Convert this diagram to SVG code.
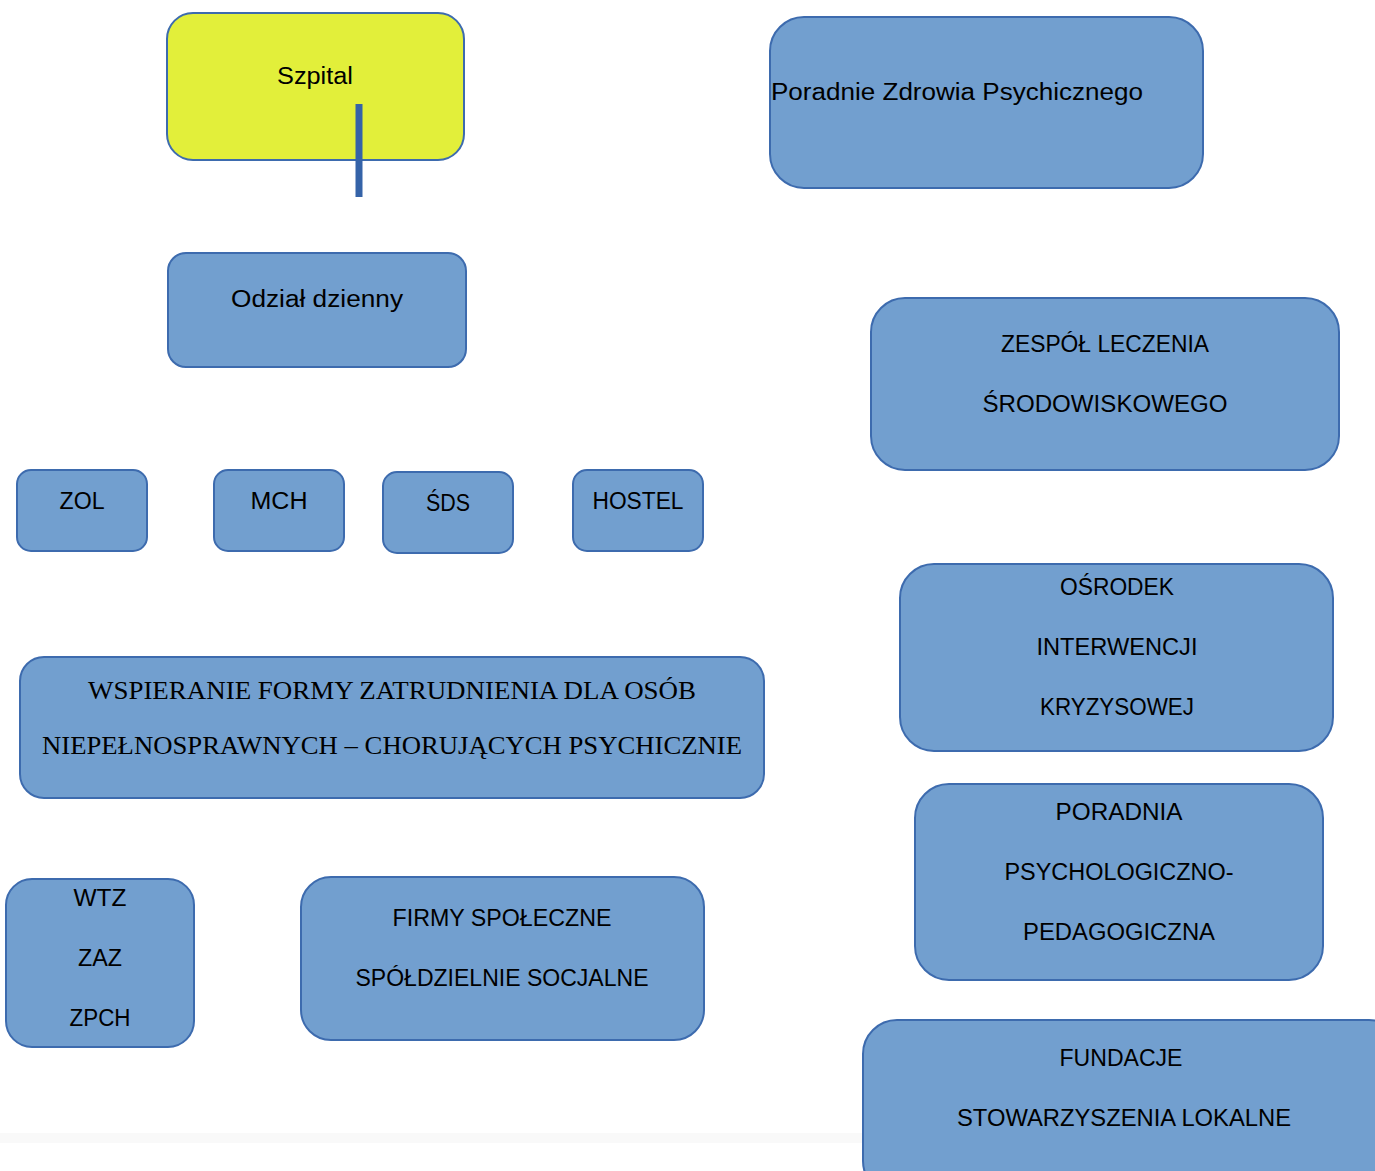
<svg xmlns="http://www.w3.org/2000/svg" width="1375" height="1171" viewBox="0 0 1375 1171">
<style>
.box{fill:#729FCF;stroke:#3D6BAE;stroke-width:2}
.yel{fill:#E2EF3A;stroke:#3D6BAE;stroke-width:2}
.t{font-family:"Liberation Sans",Arial,sans-serif;font-size:23px;fill:#000;text-anchor:middle}
.s{font-family:"Liberation Serif","Times New Roman",serif;font-size:25px;fill:#000;text-anchor:middle}
</style>
<rect width="1375" height="1171" fill="#fff"/>
<rect x="0" y="1133" width="870" height="10" fill="#f9f9f9"/>
<g id="szpital"><rect class="yel" x="167" y="13" width="297" height="147" rx="26"/><text class="t" x="315" y="84" textLength="76" lengthAdjust="spacingAndGlyphs">Szpital</text></g>
<g id="poradnie-zp"><rect class="box" x="770" y="17" width="433" height="171" rx="34"/><text x="771" y="100" style="font-family:'Liberation Sans',Arial,sans-serif;font-size:23px" textLength="372" lengthAdjust="spacingAndGlyphs">Poradnie Zdrowia Psychicznego</text></g>
<g id="odzial"><rect class="box" x="168" y="253" width="298" height="114" rx="18"/><text class="t" x="317" y="307" textLength="172" lengthAdjust="spacingAndGlyphs">Odział dzienny</text></g>
<g id="zespol"><rect class="box" x="871" y="298" width="468" height="172" rx="34"/><text class="t" x="1105" y="352" textLength="208" lengthAdjust="spacingAndGlyphs">ZESPÓŁ LECZENIA</text><text class="t" x="1105" y="412" textLength="245" lengthAdjust="spacingAndGlyphs">ŚRODOWISKOWEGO</text></g>
<g id="zol"><rect class="box" x="17" y="470" width="130" height="81" rx="14"/><text class="t" x="82" y="509" textLength="45" lengthAdjust="spacingAndGlyphs">ZOL</text></g>
<g id="mch"><rect class="box" x="214" y="470" width="130" height="81" rx="14"/><text class="t" x="279" y="509" textLength="57" lengthAdjust="spacingAndGlyphs">MCH</text></g>
<g id="sds"><rect class="box" x="383" y="472" width="130" height="81" rx="14"/><text class="t" x="448" y="511" textLength="44" lengthAdjust="spacingAndGlyphs">ŚDS</text></g>
<g id="hostel"><rect class="box" x="573" y="470" width="130" height="81" rx="14"/><text class="t" x="638" y="509" textLength="91" lengthAdjust="spacingAndGlyphs">HOSTEL</text></g>
<g id="osrodek"><rect class="box" x="900" y="564" width="433" height="187" rx="34"/><text class="t" x="1117" y="595" textLength="114" lengthAdjust="spacingAndGlyphs">OŚRODEK</text><text class="t" x="1117" y="655" textLength="161" lengthAdjust="spacingAndGlyphs">INTERWENCJI</text><text class="t" x="1117" y="715" textLength="154" lengthAdjust="spacingAndGlyphs">KRYZYSOWEJ</text></g>
<g id="wspieranie"><rect class="box" x="20" y="657" width="744" height="141" rx="24"/><text class="s" x="392" y="699" textLength="608" lengthAdjust="spacingAndGlyphs">WSPIERANIE FORMY ZATRUDNIENIA DLA OSÓB</text><text class="s" x="392" y="754" textLength="700" lengthAdjust="spacingAndGlyphs">NIEPEŁNOSPRAWNYCH – CHORUJĄCYCH PSYCHICZNIE</text></g>
<g id="poradnia-pp"><rect class="box" x="915" y="784" width="408" height="196" rx="34"/><text class="t" x="1119" y="820" textLength="127" lengthAdjust="spacingAndGlyphs">PORADNIA</text><text class="t" x="1119" y="880" textLength="229" lengthAdjust="spacingAndGlyphs">PSYCHOLOGICZNO-</text><text class="t" x="1119" y="940" textLength="192" lengthAdjust="spacingAndGlyphs">PEDAGOGICZNA</text></g>
<g id="wtz"><rect class="box" x="6" y="879" width="188" height="168" rx="26"/><text class="t" x="100" y="906" textLength="53" lengthAdjust="spacingAndGlyphs">WTZ</text><text class="t" x="100" y="966" textLength="44" lengthAdjust="spacingAndGlyphs">ZAZ</text><text class="t" x="100" y="1026" textLength="61" lengthAdjust="spacingAndGlyphs">ZPCH</text></g>
<g id="firmy"><rect class="box" x="301" y="877" width="403" height="163" rx="30"/><text class="t" x="502" y="926" textLength="219" lengthAdjust="spacingAndGlyphs">FIRMY SPOŁECZNE</text><text class="t" x="502" y="986" textLength="293" lengthAdjust="spacingAndGlyphs">SPÓŁDZIELNIE SOCJALNE</text></g>
<g id="fundacje"><rect class="box" x="863" y="1020" width="540" height="175" rx="34"/><text class="t" x="1121" y="1066" textLength="123" lengthAdjust="spacingAndGlyphs">FUNDACJE</text><text class="t" x="1124" y="1126" textLength="334" lengthAdjust="spacingAndGlyphs">STOWARZYSZENIA LOKALNE</text></g>
<g id="connectors"><line x1="359" y1="104" x2="359" y2="197" stroke="#3563A8" stroke-width="7"/></g>
</svg>
